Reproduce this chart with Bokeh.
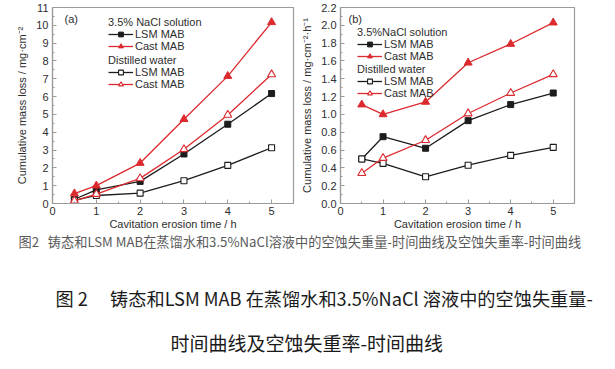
from bokeh.plotting import figure
from bokeh.models import Range1d, Legend, LegendItem, Label, FixedTicker
from bokeh.layouts import column, row
from bokeh.embed import file_html
from bokeh.resources import INLINE

# ---------------- data ----------------
time_h = [0.5, 1, 2, 3, 4, 5]

# (a) cumulative mass loss / mg·cm^-2
a_lsm_nacl = [0.24, 0.77, 1.24, 2.78, 4.45, 6.17]
a_cast_nacl = [0.56, 1.0, 2.27, 4.73, 7.15, 10.17]
a_lsm_water = [0.18, 0.45, 0.58, 1.28, 2.14, 3.13]
a_cast_water = [0.15, 0.53, 1.41, 3.04, 4.97, 7.24]

# (b) cumulative mass loss rate / mg·cm^-2·h^-1
b_lsm_nacl = [0.5, 0.75, 0.62, 0.93, 1.11, 1.24]
b_cast_nacl = [1.11, 1.0, 1.14, 1.58, 1.79, 2.03]
b_lsm_water = [0.5, 0.45, 0.30, 0.43, 0.54, 0.63]
b_cast_water = [0.34, 0.51, 0.71, 1.01, 1.24, 1.45]

x_ticks = [0, 1, 2, 3, 4, 5]
a_y_ticks = list(range(0, 12))
b_y_ticks = [0.0, 0.2, 0.4, 0.6, 0.8, 1.0, 1.2, 1.4, 1.6, 1.8, 2.0, 2.2]

x_label = "Cavitation erosion time / h"
a_y_label = "Cumulative mass loss / mg·cm⁻²"
b_y_label = "Cumulative mass loss / mg·cm⁻²·h⁻¹"
head_nacl_a = "3.5% NaCl solution"
head_nacl_b = "3.5%NaCl solution"
head_water = "Distilled water"
name_lsm = "LSM MAB"
name_cast = "Cast MAB"

caption_small = "图2\u00a0\u00a0\u00a0铸态和LSM MAB在蒸馏水和3.5%NaCl溶液中的空蚀失重量-时间曲线及空蚀失重率-时间曲线"
caption_line1 = "图\u00a02\u3000\u00a0铸态和LSM MAB 在蒸馏水和3.5%NaCl 溶液中的空蚀失重量-"
caption_line2 = "时间曲线及空蚀失重率-时间曲线"

# ---------------- style ----------------
FONT = "Liberation Sans"
FS = "11px"
CJK = "Noto Sans CJK SC"
BLACK = "#1c1c1c"
RED = "#dc2a2e"
FRAME = "#9a9a9a"
TXT = "#2e2e2e"
H = 232


def make_panel(width, left, frame_w, ys, ymax, yticks, ylabel, tag, tag_xy, heads, leg_pos):
    p = figure(width=width, height=H, x_range=Range1d(0, 5.5), y_range=Range1d(0, ymax),
               toolbar_location=None, output_backend="svg",
               min_border_left=left, min_border_right=width - left - frame_w,
               min_border_top=7, min_border_bottom=29)
    p.xgrid.visible = False
    p.ygrid.visible = False
    p.outline_line_color = FRAME
    p.outline_line_width = 1.2
    p.background_fill_color = "white"
    p.border_fill_color = "white"

    step = yticks[1] - yticks[0]
    p.xaxis.ticker = FixedTicker(ticks=x_ticks, minor_ticks=[i + 0.5 for i in x_ticks])
    p.yaxis.ticker = FixedTicker(ticks=yticks, minor_ticks=[t + step / 2 for t in yticks[:-1]])
    p.yaxis.major_label_overrides = {t: (f"{t:.1f}" if step < 1 else str(int(t))) for t in yticks}

    for ax in (p.xaxis[0], p.yaxis[0]):
        ax.axis_line_color = FRAME
        ax.axis_line_width = 1.2
        ax.major_tick_line_color = FRAME
        ax.minor_tick_line_color = FRAME
        ax.major_tick_in = 4
        ax.major_tick_out = 0
        ax.minor_tick_in = 2
        ax.minor_tick_out = 0
        ax.major_label_text_font = FONT
        ax.major_label_text_font_size = FS
        ax.major_label_text_color = TXT
        ax.axis_label_text_font = FONT
        ax.axis_label_text_font_size = FS
        ax.axis_label_text_font_style = "normal"
        ax.axis_label_text_color = TXT
    p.xaxis.major_label_standoff = 3
    p.xaxis.axis_label_standoff = 0
    p.yaxis.major_label_standoff = 4
    p.yaxis.axis_label_standoff = 5
    p.xaxis.axis_label = x_label
    p.yaxis.axis_label = ylabel

    lsm_nacl, cast_nacl, lsm_water, cast_water = ys
    r = {}
    r["l1"] = p.line(time_h, lsm_nacl, line_color=BLACK, line_width=1.3)
    r["s1"] = p.scatter(time_h, lsm_nacl, marker="square", size=6, fill_color=BLACK, line_color=BLACK)
    r["l2"] = p.line(time_h, cast_nacl, line_color=RED, line_width=1.3)
    r["s2"] = p.scatter(time_h, cast_nacl, marker="triangle", size=8, fill_color=RED, line_color=RED)
    r["l3"] = p.line(time_h, lsm_water, line_color=BLACK, line_width=1.3)
    r["s3"] = p.scatter(time_h, lsm_water, marker="square", size=6, fill_color="white", line_color=BLACK, line_width=1.1)
    r["l4"] = p.line(time_h, cast_water, line_color=RED, line_width=1.3)
    r["s4"] = p.scatter(time_h, cast_water, marker="triangle", size=8, fill_color="white", line_color=RED, line_width=1.1)

    groups = [(heads[0], [("l1", "s1"), ("l2", "s2")]), (heads[1], [("l3", "s3"), ("l4", "s4")])]
    for (head, pairs), pos in zip(groups, leg_pos):
        items = [LegendItem(label=lab, renderers=[r[a], r[b]]) for lab, (a, b) in zip([name_lsm, name_cast], pairs)]
        leg = Legend(items=items, title=head, location=pos,
                     label_text_font=FONT, label_text_font_size=FS, label_text_color=TXT,
                     title_text_font=FONT, title_text_font_size=FS, title_text_color=TXT,
                     title_text_font_style="normal", title_standoff=0,
                     label_height=12, glyph_height=12, glyph_width=25, label_standoff=2,
                     spacing=0, padding=0, margin=0,
                     border_line_alpha=0, background_fill_alpha=0)
        p.add_layout(leg)

    p.add_layout(Label(x=tag_xy[0], y=tag_xy[1], x_units="screen", y_units="screen", text=tag,
                       text_font=FONT, text_font_size=FS, text_color=TXT, text_baseline="middle"))
    return p


p1 = make_panel(298, 52, 241, (a_lsm_nacl, a_cast_nacl, a_lsm_water, a_cast_water), 11, a_y_ticks,
                a_y_label, "(a)", (12, 185), (head_nacl_a, head_water), [(56, 151), (56, 113)])
p2 = make_panel(290, 39, 237, (b_lsm_nacl, b_cast_nacl, b_lsm_water, b_cast_water), 2.2, b_y_ticks,
                b_y_label, "(b)", (8, 185), (head_nacl_b, head_water), [(17, 141), (17, 104)])

p3 = figure(width=610, height=369 - H, x_range=Range1d(0, 1), y_range=Range1d(0, 1),
            toolbar_location=None, output_backend="svg", min_border=0,
            x_axis_location=None, y_axis_location=None)
p3.xgrid.visible = False
p3.ygrid.visible = False
p3.outline_line_color = None
p3.add_layout(Label(x=18, y=369 - H - 9, x_units="screen", y_units="screen", text=caption_small,
                    text_font=CJK, text_font_size="13.2px", text_color="#5a5a5a", text_baseline="middle"))
p3.add_layout(Label(x=55, y=369 - 297, x_units="screen", y_units="screen", text=caption_line1,
                    text_font=CJK, text_font_size="18.2px", text_color="#1a1a1a", text_baseline="middle"))
p3.add_layout(Label(x=170, y=369 - 342, x_units="screen", y_units="screen", text=caption_line2,
                    text_font=CJK, text_font_size="19px", text_color="#1a1a1a", text_baseline="middle"))

layout = column(row(p1, p2), p3)
open("out.html", "w").write(file_html(layout, INLINE))
